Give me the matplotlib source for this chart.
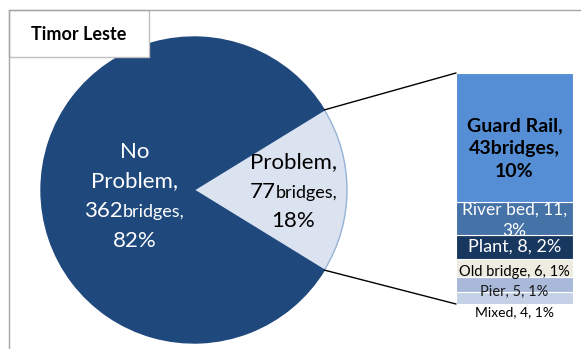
import numpy as np
import matplotlib
matplotlib.use("Agg")
import matplotlib.pyplot as plt
from matplotlib.patches import ConnectionPatch, Rectangle
from matplotlib.lines import Line2D
from matplotlib.offsetbox import TextArea, HPacker, VPacker, AnnotationBbox

plt.rcParams["font.family"] = ["Lato", "DejaVu Sans"]

title = "Timor Leste"

# pie: problem vs no problem
pie_labels = ["Problem", "No Problem"]
pie_counts = [77, 362]
pie_pcts = ["18%", "82%"]
pie_colors = ["#DCE3F0", "#1F497D"]

# breakdown of problem bridges, bottom to top in the bar
bar_labels = ["Mixed", "Pier", "Old bridge", "Plant", "River bed", "Guard Rail"]
bar_counts = [4, 5, 6, 8, 11, 43]
bar_pcts = ["1%", "1%", "1%", "2%", "3%", "10%"]
bar_colors = ["#C5D1E6", "#A9B9D9", "#EEECE1", "#17375E", "#4572A7", "#558ED5"]

W, H = 581, 349
fig = plt.figure(figsize=(W / 100, H / 100), dpi=100)


def fig_box(x0, y0, x1, y1):
    # pixel box (top-left origin) -> figure fraction rect
    return [x0 / W, 1 - y1 / H, (x1 - x0) / W, (y1 - y0) / H]


# outer chart border
fig.add_artist(Line2D([9 / W, 1], [1 - 10 / H, 1 - 10 / H], color="#A6A6A6", lw=1))
fig.add_artist(Line2D([9 / W, 9 / W], [1 - 10 / H, 0], color="#A6A6A6", lw=1))

# pie axes
cx, cy, r = 194, 190, 153
ax_pie = fig.add_axes(fig_box(cx - r, cy - r, cx + r, cy + r))
frac = pie_counts[0] / sum(pie_counts)
half = frac * 180
wedges, _ = ax_pie.pie(pie_counts, colors=pie_colors, startangle=-half,
                       counterclock=True, frame=True, radius=1)
wedges[0].set_edgecolor("#95B3D7")
wedges[0].set_linewidth(1)
wedges[1].set_edgecolor(pie_colors[1])
ax_pie.set_xlim(-1, 1)
ax_pie.set_ylim(-1, 1)
ax_pie.axis("off")


def pie_label(lines, color, xy):
    rows = []
    for parts in lines:
        items = [TextArea(s, textprops=dict(color=color, fontsize=fs)) for s, fs in parts]
        rows.append(HPacker(children=items, align="baseline", pad=0, sep=0))
    box = VPacker(children=rows, align="center", pad=0, sep=7)
    ab = AnnotationBbox(box, xy, xycoords=ax_pie.transData, frameon=False,
                        box_alignment=(0.5, 0.5))
    ax_pie.add_artist(ab)


big, small = 16, 13
no_word, prob_word = pie_labels[1].split(" ")
pie_label([[(no_word, big)],
           [(prob_word + ",", big)],
           [(str(pie_counts[1]), big), ("bridges,", small)],
           [(pie_pcts[1], big)]],
          "white", (-0.39, -0.04))
pie_label([[(pie_labels[0] + ",", big)],
           [(str(pie_counts[0]), big), ("bridges,", small)],
           [(pie_pcts[0], big)]],
          "black", (0.65, -0.01))

# bar of breakdown
ax_bar = fig.add_axes(fig_box(456, 73, 573, 304))
bottoms = np.concatenate([[0], np.cumsum(bar_counts)[:-1]])
ax_bar.bar([0.5] * len(bar_counts), bar_counts, width=1, bottom=bottoms,
           color=bar_colors, edgecolor="white", linewidth=0.8)
ax_bar.set_xlim(0, 1)
ax_bar.set_ylim(0, sum(bar_counts))
ax_bar.axis("off")

label_texts = [
    f"{bar_labels[0]}, {bar_counts[0]}, {bar_pcts[0]}",
    f"{bar_labels[1]}, {bar_counts[1]}, {bar_pcts[1]}",
    f"{bar_labels[2]}, {bar_counts[2]}, {bar_pcts[2]}",
    f"{bar_labels[3]}, {bar_counts[3]}, {bar_pcts[3]}",
    f"{bar_labels[4]}, {bar_counts[4]},\n{bar_pcts[4]}",
    f"{bar_labels[5]},\n{bar_counts[5]}bridges,\n{bar_pcts[5]}",
]
label_style = [
    dict(color="black", fontsize=10, dy=-10),
    dict(color="#1a1a1a", fontsize=10.5, dy=-5),
    dict(color="black", fontsize=10.5, dy=-3),
    dict(color="white", fontsize=13, dy=0),
    dict(color="white", fontsize=12.5, dy=-1.5, linespacing=1.4),
    dict(color="black", fontsize=14, dy=-8, fontweight="bold", linespacing=1.4),
]
for b, c, txt, st in zip(bottoms, bar_counts, label_texts, label_style):
    st = dict(st)
    dy = st.pop("dy")
    st.setdefault("linespacing", 1.2)
    ax_bar.annotate(txt, (0.5, b + c / 2), xytext=(0, dy), textcoords="offset points",
                    ha="center", va="center", clip_on=False, **st)

# connector lines
ang = np.deg2rad(half)
for py, by in [(np.sin(ang), sum(bar_counts)), (-np.sin(ang), 0)]:
    con = ConnectionPatch(xyA=(np.cos(ang), py), coordsA=ax_pie.transData,
                          xyB=(0, by), coordsB=ax_bar.transData,
                          color="black", lw=1)
    fig.add_artist(con)

# title box
fig.add_artist(Rectangle((9 / W, 1 - 57 / H), 140 / W, 47 / H, transform=fig.transFigure,
                         facecolor="white", edgecolor="#BFBFBF", lw=1))
fig.text(79 / W, 1 - 35 / H, title, ha="center", va="center",
         fontsize=13, fontweight="bold")

fig.savefig("out.png", dpi=100)
